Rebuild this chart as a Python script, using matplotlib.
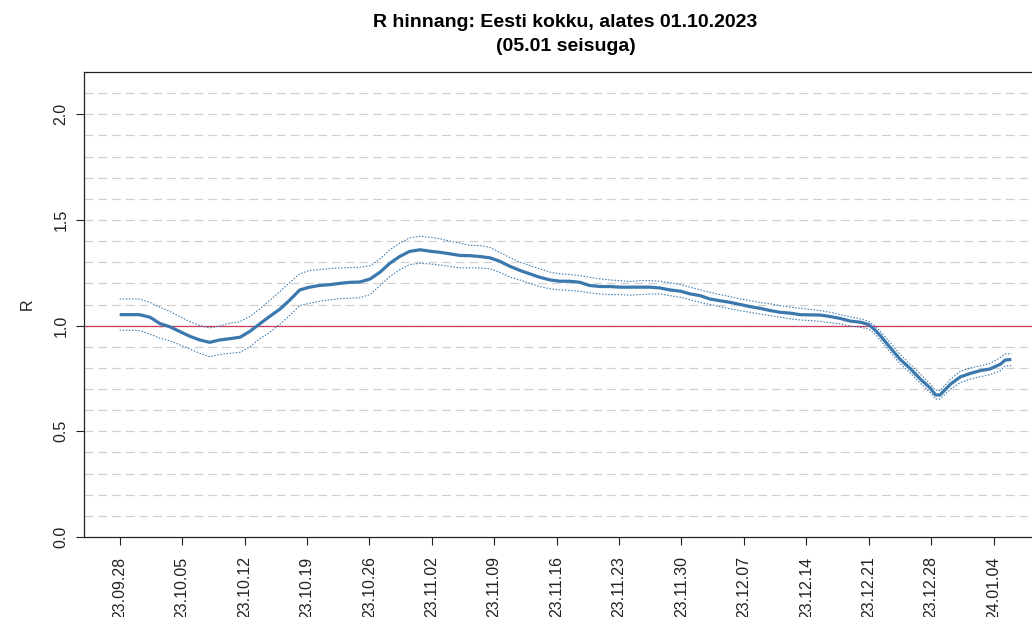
import datetime as dt
import matplotlib
matplotlib.use("Agg")
import matplotlib.pyplot as plt
import matplotlib.dates as mdates

plt.rcParams['font.family'] = ['Liberation Sans', 'DejaVu Sans']

# days since 2023-09-28
days = [0.0, 2.2, 3.4, 4.5, 5.6, 6.7, 7.9, 9.0, 10.1, 11.2, 12.3, 13.5, 14.6, 15.7, 16.8, 18.0, 19.1,
        20.2, 21.3, 22.4, 23.6, 24.7, 25.8, 26.9, 28.1, 29.2, 30.3, 31.4, 32.5, 33.7, 34.8, 35.9, 37.0, 38.2, 39.3,
        40.4, 41.5, 42.6, 43.8, 44.9, 46.0, 47.1, 48.3, 49.4, 50.5, 51.6, 52.7, 53.9, 55.0, 56.1, 57.2, 58.4, 59.5,
        60.6, 61.7, 62.9, 64.0, 65.1, 66.2, 67.3, 68.5, 69.6, 70.7, 71.8, 73.0, 74.1, 75.2, 76.3, 77.4, 78.6, 79.7,
        80.8, 81.9, 83.1, 84.0, 84.7, 85.3, 86.4, 87.5, 88.7, 89.8, 90.9, 91.5, 92.0, 93.2, 94.3, 95.4, 96.5, 97.6,
        98.8, 99.3, 100.0]

r_mean = [1.052, 1.052, 1.040, 1.010, 0.995, 0.973, 0.949, 0.932, 0.921, 0.932, 0.938, 0.945, 0.973, 1.008, 1.043, 1.079, 1.122,
          1.169, 1.182, 1.190, 1.194, 1.200, 1.205, 1.206, 1.221, 1.253, 1.295, 1.327, 1.351, 1.359, 1.352, 1.347, 1.340, 1.332, 1.331,
          1.327, 1.321, 1.305, 1.280, 1.261, 1.245, 1.229, 1.216, 1.210, 1.210, 1.205, 1.190, 1.185, 1.185, 1.182, 1.182, 1.182, 1.182,
          1.178, 1.169, 1.163, 1.150, 1.142, 1.126, 1.118, 1.110, 1.100, 1.090, 1.082, 1.071, 1.063, 1.059, 1.052, 1.051, 1.050, 1.043,
          1.034, 1.022, 1.016, 1.005, 0.980, 0.953, 0.897, 0.842, 0.795, 0.747, 0.705, 0.672, 0.672, 0.724, 0.758, 0.774, 0.787, 0.795,
          0.818, 0.837, 0.840]

r_upper = [1.126, 1.126, 1.110, 1.087, 1.068, 1.043, 1.019, 1.000, 0.989, 0.998, 1.011, 1.019, 1.043, 1.079, 1.118, 1.163, 1.205,
           1.245, 1.261, 1.265, 1.270, 1.273, 1.275, 1.276, 1.284, 1.316, 1.359, 1.390, 1.415, 1.423, 1.418, 1.411, 1.400, 1.390, 1.380,
           1.379, 1.371, 1.347, 1.321, 1.300, 1.284, 1.269, 1.253, 1.245, 1.242, 1.237, 1.229, 1.221, 1.216, 1.213, 1.208, 1.213, 1.213,
           1.210, 1.204, 1.194, 1.182, 1.169, 1.158, 1.147, 1.137, 1.126, 1.118, 1.110, 1.103, 1.095, 1.087, 1.082, 1.077, 1.071, 1.063,
           1.052, 1.042, 1.032, 1.020, 1.000, 0.973, 0.921, 0.866, 0.815, 0.771, 0.724, 0.695, 0.692, 0.747, 0.784, 0.800, 0.810, 0.821,
           0.850, 0.866, 0.866]

r_lower = [0.979, 0.977, 0.960, 0.941, 0.929, 0.910, 0.889, 0.869, 0.853, 0.863, 0.869, 0.874, 0.900, 0.937, 0.968, 1.008, 1.049,
           1.095, 1.106, 1.115, 1.122, 1.128, 1.130, 1.132, 1.147, 1.190, 1.232, 1.264, 1.289, 1.295, 1.292, 1.287, 1.280, 1.273, 1.274,
           1.273, 1.269, 1.253, 1.229, 1.216, 1.200, 1.185, 1.174, 1.169, 1.166, 1.163, 1.155, 1.150, 1.147, 1.147, 1.144, 1.147, 1.150,
           1.150, 1.142, 1.134, 1.122, 1.110, 1.100, 1.090, 1.079, 1.071, 1.063, 1.055, 1.047, 1.040, 1.032, 1.027, 1.024, 1.020, 1.014,
           1.008, 0.998, 0.992, 0.984, 0.961, 0.932, 0.876, 0.821, 0.774, 0.727, 0.684, 0.653, 0.653, 0.700, 0.731, 0.747, 0.758, 0.768,
           0.787, 0.810, 0.810]

tick_dates = ["2023-09-28", "2023-10-05", "2023-10-12", "2023-10-19", "2023-10-26", "2023-11-02", "2023-11-09",
              "2023-11-16", "2023-11-23", "2023-11-30", "2023-12-07", "2023-12-14", "2023-12-21", "2023-12-28",
              "2024-01-04"]
y_ticks = [0.0, 0.5, 1.0, 1.5, 2.0]
grid_levels = [round(0.1 * i, 1) for i in range(1, 22)]

title = "R hinnang: Eesti kokku, alates 01.10.2023\n(05.01 seisuga)"

base = dt.datetime(2023, 9, 28)
x = [base + dt.timedelta(days=d) for d in days]
ticks = [dt.datetime.strptime(s, "%Y-%m-%d") for s in tick_dates]

W, H = 1032, 617
fig = plt.figure(figsize=(W / 100, H / 100), dpi=100)
left_px, right_px, top_px, bot_px = 84, 1047, 72, 537
ax = fig.add_axes([left_px / W, 1 - bot_px / H, (right_px - left_px) / W, (bot_px - top_px) / H])

for g in grid_levels:
    ax.axhline(g, color='#d0d0d0', lw=0.9, linestyle=(0, (7, 4)), zorder=1)
ax.axhline(1.0, color='#cc3a5a', lw=0.9, zorder=2)

col = '#3a78ad'
ax.plot(x, r_upper, color=col, lw=0.8, linestyle=(0, (1.3, 1.5)), zorder=3)
ax.plot(x, r_lower, color=col, lw=0.8, linestyle=(0, (1.3, 1.5)), zorder=3)
ax.plot(x, r_mean, color=col, lw=2.3, zorder=4, solid_capstyle='butt')

ax.set_ylim(0, 2.2)
ax.set_xlim(base + dt.timedelta(days=-4.0), base + dt.timedelta(days=104.0))
ax.set_yticks(y_ticks)
ax.set_yticklabels([f"{v:.1f}" for v in y_ticks], rotation=90, va='center', fontsize=11.5)
ax.set_xticks(ticks)
ax.xaxis.set_major_formatter(mdates.DateFormatter("%y.%m.%d"))
for lab in ax.get_xticklabels():
    lab.set_rotation(90)
    lab.set_fontsize(11.5)
ax.tick_params(axis='both', length=6, width=0.8, color='#222222', labelcolor='#222222')
ax.tick_params(axis='x', pad=8)
ax.tick_params(axis='y', pad=5)
for s in ax.spines.values():
    s.set_linewidth(0.9)
    s.set_color('#222222')

ax.set_ylabel("R", fontsize=11.5, color='#222222', labelpad=14)
ax.set_title(title, fontsize=14, fontweight='bold', pad=15, linespacing=1.55)

fig.savefig("out.png", dpi=100)
